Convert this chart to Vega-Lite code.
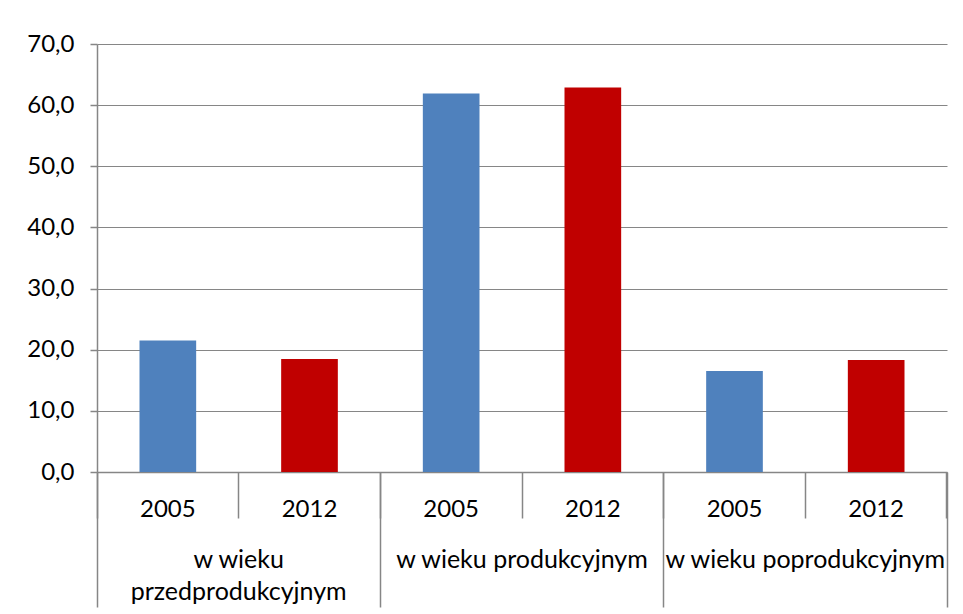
{
  "$schema": "https://vega.github.io/schema/vega-lite/v6.json",
  "width": 850,
  "height": 428,
  "autosize": {"type": "none"},
  "padding": {"left": 97, "top": 44, "right": 16, "bottom": 142},
  "background": "white",
  "config": {
    "view": {"stroke": null},
    "font": "Lato",
    "axis": {
      "labelFont": "Lato",
      "labelFontSize": 24,
      "labelColor": "#000000",
      "domainColor": "#868686",
      "tickColor": "#868686",
      "gridColor": "#868686",
      "domainWidth": 1.5,
      "tickWidth": 1.5,
      "gridWidth": 1
    }
  },
  "data": {
    "values": [
      {"group": "w wieku przedprodukcyjnym", "year": "2005", "cat": "w wieku przedprodukcyjnym|2005", "value": 21.5},
      {"group": "w wieku przedprodukcyjnym", "year": "2012", "cat": "w wieku przedprodukcyjnym|2012", "value": 18.5},
      {"group": "w wieku produkcyjnym", "year": "2005", "cat": "w wieku produkcyjnym|2005", "value": 61.9},
      {"group": "w wieku produkcyjnym", "year": "2012", "cat": "w wieku produkcyjnym|2012", "value": 62.9},
      {"group": "w wieku poprodukcyjnym", "year": "2005", "cat": "w wieku poprodukcyjnym|2005", "value": 16.5},
      {"group": "w wieku poprodukcyjnym", "year": "2012", "cat": "w wieku poprodukcyjnym|2012", "value": 18.3}
    ]
  },
  "layer": [
    {
      "mark": {"type": "bar", "width": {"band": 0.4}},
      "encoding": {
        "x": {
          "field": "cat",
          "type": "nominal",
          "sort": null,
          "scale": {"paddingInner": 0, "paddingOuter": 0},
          "axis": {
            "orient": "bottom",
            "title": null,
            "labelExpr": "split(datum.value, '|')[1]",
            "labelAngle": 0,
            "bandPosition": 1,
            "tickExtra": true,
            "tickSize": 46,
            "labelPadding": -2,
            "labelBaseline": "alphabetic",
            "grid": false
          }
        },
        "y": {
          "field": "value",
          "type": "quantitative",
          "scale": {"domain": [0, 70], "nice": false},
          "axis": {
            "title": null,
            "values": [0, 10, 20, 30, 40, 50, 60, 70],
            "labelExpr": "replace(format(datum.value, '.1f'), '.', ',')",
            "tickSize": 7,
            "labelPadding": 16,
            "grid": true
          }
        },
        "color": {
          "field": "year",
          "type": "nominal",
          "scale": {"domain": ["2005", "2012"], "range": ["#4F81BD", "#C00000"]},
          "legend": null
        }
      }
    },
    {
      "mark": {"type": "bar", "opacity": 0},
      "encoding": {
        "x": {
          "field": "group",
          "type": "nominal",
          "sort": null,
          "scale": {"paddingInner": 0, "paddingOuter": 0},
          "axis": {
            "orient": "bottom",
            "title": null,
            "labelExpr": "datum.value == 'w wieku przedprodukcyjnym' ? ['w wieku', 'przedprodukcyjnym'] : datum.value",
            "labelAngle": 0,
            "labelFontSize": 25,
            "bandPosition": 1,
            "tickExtra": true,
            "tickSize": 135,
            "labelPadding": -40,
            "labelBaseline": "alphabetic",
            "labelLineHeight": 32,
            "labelLimit": 400,
            "labelOverlap": false,
            "domain": false,
            "grid": false
          }
        },
        "y": {"field": "value", "type": "quantitative"}
      }
    }
  ],
  "resolve": {"scale": {"x": "independent"}, "axis": {"x": "independent"}}
}
